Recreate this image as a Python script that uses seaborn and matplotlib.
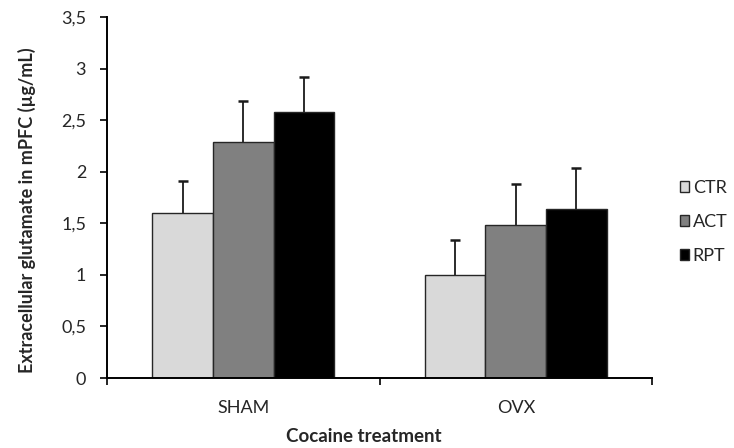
import matplotlib
matplotlib.use("Agg")
import matplotlib.pyplot as plt
from matplotlib.patches import Patch
import seaborn as sns
import pandas as pd
import numpy as np

# Extracellular glutamate in mPFC by surgery group and cocaine treatment
groups = ["SHAM", "OVX"]
treatments = ["CTR", "ACT", "RPT"]
sham_means = [1.60, 2.29, 2.58]
ovx_means = [1.00, 1.48, 1.64]
sham_err = [0.31, 0.40, 0.34]
ovx_err = [0.34, 0.40, 0.40]
y_ticks = [0, 0.5, 1, 1.5, 2, 2.5, 3, 3.5]
y_tick_labels = ["0", "0,5", "1", "1,5", "2", "2,5", "3", "3,5"]

colors = ["#d9d9d9", "#808080", "#000000"]

df = pd.DataFrame({
    "group": [g for g in groups for _ in treatments],
    "treatment": treatments * len(groups),
    "value": sham_means + ovx_means,
    "err": sham_err + ovx_err,
})

sns.set_style("white")
plt.rcParams["font.family"] = ["Lato", "DejaVu Sans"]

fig = plt.figure(figsize=(7.34, 4.48), dpi=100)
ax = fig.add_axes([107 / 734, 1 - 378 / 448, (652 - 107) / 734, (378 - 17) / 448])

sns.barplot(data=df, x="group", y="value", hue="treatment", order=groups,
            hue_order=treatments, palette=colors, width=0.667, errorbar=None,
            edgecolor="#262626", linewidth=1.0, ax=ax, legend=False, zorder=2)

# upward-only error bars at the centre of each bar
for i, t in enumerate(treatments):
    sub = df[df["treatment"] == t].set_index("group").loc[groups]
    cont = ax.containers[i]
    xs = [p.get_x() + p.get_width() / 2 for p in cont.patches]
    eb = ax.errorbar(xs, sub["value"].values,
                     yerr=[np.zeros(len(groups)), sub["err"].values],
                     fmt="none", ecolor="#1a1a1a", elinewidth=1.3, capsize=3.8,
                     capthick=1.8, zorder=1)
    # hide the cap sitting on the bar top
    eb.lines[1][0].set_visible(False)

ax.set_ylim(0, 3.5)
ax.set_xlim(-0.5, 1.5)
ax.set_yticks(y_ticks)
ax.set_yticklabels(y_tick_labels)
ax.set_xticks([0, 1])
ax.set_xticklabels(groups)
ax.tick_params(axis="x", length=0, pad=16, labelsize=13)
ax.set_xticks([-0.5, 0.5, 1.5], minor=True)
ax.tick_params(axis="x", which="minor", length=5, width=1.2, direction="out",
               bottom=True, color="black")
ax.tick_params(axis="y", length=5, width=1.2, direction="out", left=True,
               labelsize=13, pad=10, color="black")

for side in ["top", "right"]:
    ax.spines[side].set_visible(False)
for side in ["left", "bottom"]:
    ax.spines[side].set_color("black")
    ax.spines[side].set_linewidth(1.4)

ax.set_xlabel("Cocaine treatment", fontsize=13.5, fontweight="bold")
ax.set_ylabel("Extracellular glutamate in mPFC (µg/mL)", fontsize=13,
              fontweight="bold")
ax.xaxis.set_label_coords(0.472, -0.138)
ax.yaxis.set_label_coords(-0.13, 0.465)

handles = [Patch(facecolor=c, edgecolor="#262626", linewidth=1.0) for c in colors]
fig.legend(handles, treatments, loc="center left",
           bbox_to_anchor=(680 / 734, 1 - 222 / 448), frameon=False,
           fontsize=13, handlelength=0.5, handleheight=0.5,
           handletextpad=0.2, labelspacing=1.0, borderpad=0,
           borderaxespad=0)

fig.savefig("out.png", dpi=100)
